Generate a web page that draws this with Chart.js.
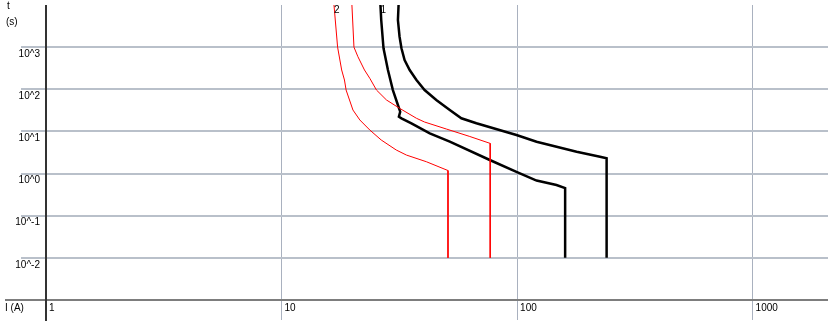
<!DOCTYPE html>
<html>
<head>
<meta charset="utf-8">
<script src="https://cdn.jsdelivr.net/npm/chart.js@4.4.1/dist/chart.umd.min.js"></script>
<style>
body { margin: 0; background: #fff; }
</style>
</head>
<body>
<canvas id="chart" width="828" height="325"></canvas>
<script>
// axes (log-log): current I (A) against time t (s)
var xMin = 1, xMax = 2090;
var yMin = 0.001, yMax = 10000;
var xTicks = [1, 10, 100, 1000];
var xTickLabels = ['1', '10', '100', '1000'];
var yTicks = [0.01, 0.1, 1, 10, 100, 1000];
var yTickLabels = ['10^-2', '10^-1', '10^0', '10^1', '10^2', '10^3'];

// curve 2 (red band)
var red2LowI = [16.7, 17.3, 18.0, 18.5, 18.8, 20.1, 21.5, 23.7, 26.5, 30.7, 33.9, 41.2, 50.9, 50.9];
var red2LowT = [10000, 1000, 287, 166, 96, 32.2, 18.7, 10.8, 6.26, 3.62, 2.75, 1.91, 1.18, 0.01];
var red2HighI = [19.9, 20.3, 21.1, 22.5, 23.7, 25.3, 27.9, 31.7, 37.4, 40.5, 50.1, 63.0, 76.9, 76.9];
var red2HighT = [10000, 1000, 593, 287, 182, 96, 55.7, 35.4, 20.5, 16.7, 11.4, 7.58, 5.2, 0.01];

// curve 1 (black band)
var black1LowI = [26.3, 26.5, 27.1, 28.3, 29.7, 31.2, 31.9, 31.5, 32.3, 35.6, 42.6, 51.8, 76.6, 99.4, 121, 147, 160, 160];
var black1LowT = [10000, 4406, 939, 287, 96, 42.4, 29.4, 22.3, 20.5, 15.6, 9.0, 5.7, 2.1, 1.1, 0.684, 0.535, 0.454, 0.01];
var black1HighI = [31.4, 31.2, 31.7, 32.3, 33.3, 35.0, 37.4, 40.5, 45.4, 51.8, 58.0, 67.2, 99.4, 121, 179, 225, 240, 240];
var black1HighT = [10000, 4406, 1770, 939, 495, 287, 166, 96, 55.7, 32.2, 20.5, 15.6, 8.2, 5.7, 3.3, 2.5, 2.3, 0.01];

var curveNames = ['2', '1'];

function pts(xs, ys) {
    return xs.map(function (v, i) { return { x: v, y: ys[i] }; });
}

function curve(xs, ys, color, width) {
    return {
        data: pts(xs, ys),
        borderColor: color,
        borderWidth: width,
        showLine: true,
        pointRadius: 0,
        tension: 0,
        fill: false
    };
}

var textFont = '10px "Liberation Sans", Arial, sans-serif';

// axis lines, axis titles and curve numbers
var decor = {
    id: 'decor',
    afterDraw: function (chart) {
        var c = chart.ctx, x = chart.scales.x, y = chart.scales.y;
        var area = chart.chartArea;
        var y0 = y.getPixelForValue(yMin);
        var x0 = x.getPixelForValue(xMin);
        c.save();
        c.strokeStyle = '#7d7d7d';
        c.lineWidth = 2;
        c.beginPath();
        c.moveTo(5, y0);
        c.lineTo(chart.width, y0);
        c.stroke();
        c.strokeStyle = '#333333';
        c.beginPath();
        c.moveTo(x0, area.top);
        c.lineTo(x0, area.bottom + 21);
        c.stroke();

        c.fillStyle = '#000';
        c.font = textFont;
        c.textAlign = 'left';
        c.textBaseline = 'alphabetic';
        c.fillText('t', 7, 9);
        c.fillText('(s)', 6, 25);
        c.fillText('I (A)', 5, 311);
        c.fillText(curveNames[0], x.getPixelForValue(red2LowI[0]), 13);
        c.fillText(curveNames[1], x.getPixelForValue(black1LowI[0]), 13);
        c.restore();
    }
};

var ctx = document.getElementById('chart').getContext('2d');
var chart = new Chart(ctx, {
    type: 'scatter',
    data: {
        datasets: [
            curve(red2LowI, red2LowT, '#ff0000', 1),
            curve(red2HighI, red2HighT, '#ff0000', 1),
            curve(black1LowI, black1LowT, '#000000', 2.5),
            curve(black1HighI, black1HighT, '#000000', 2.5)
        ]
    },
    options: {
        responsive: false,
        animation: false,
        layout: { padding: { top: 5, left: 0, right: 0, bottom: 0 } },
        plugins: {
            legend: { display: false },
            tooltip: { enabled: false }
        },
        scales: {
            x: {
                type: 'logarithmic',
                min: xMin,
                max: xMax,
                border: { display: false },
                afterBuildTicks: function (s) {
                    s.ticks = xTicks.map(function (v) { return { value: v }; });
                },
                afterFit: function (s) { s.height = 25; },
                grid: {
                    color: function (c) { return c.tick && c.tick.value === 1 ? 'rgba(0,0,0,0)' : '#a9b1bf'; },
                    lineWidth: 1,
                    drawTicks: true,
                    tickLength: 20
                },
                ticks: {
                    autoSkip: false,
                    maxRotation: 0,
                    align: 'start',
                    labelOffset: 3,
                    padding: -18,
                    color: '#000',
                    font: { family: '"Liberation Sans", Arial, sans-serif', size: 10 },
                    callback: function (v) {
                        var i = xTicks.indexOf(v);
                        return i < 0 ? '' : xTickLabels[i];
                    }
                }
            },
            y: {
                type: 'logarithmic',
                min: yMin,
                max: yMax,
                border: { display: false },
                afterBuildTicks: function (s) {
                    s.ticks = yTicks.map(function (v) { return { value: v }; });
                },
                afterFit: function (s) { s.width = 46; },
                grid: {
                    color: '#b9c0ca',
                    lineWidth: 2,
                    drawTicks: true,
                    tickLength: 25
                },
                ticks: {
                    autoSkip: false,
                    labelOffset: 7,
                    padding: -19,
                    color: '#000',
                    font: { family: '"Liberation Sans", Arial, sans-serif', size: 10 },
                    callback: function (v) {
                        var i = yTicks.indexOf(v);
                        return i < 0 ? '' : yTickLabels[i];
                    }
                }
            }
        }
    },
    plugins: [decor]
});
</script>
</body>
</html>
